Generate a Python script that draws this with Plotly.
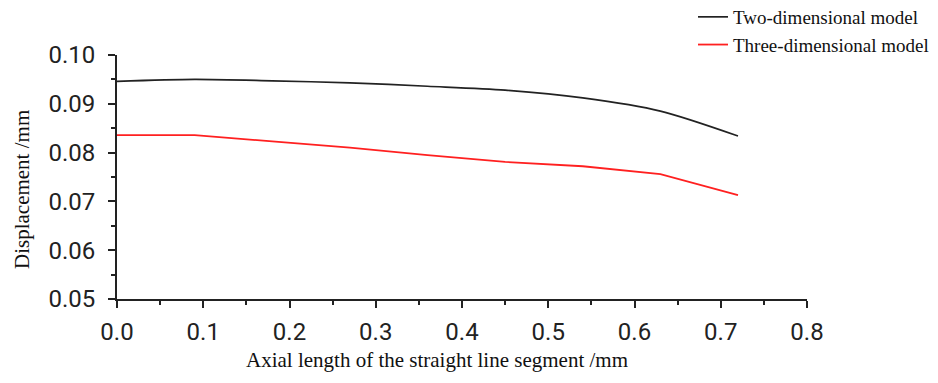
import plotly.graph_objects as go

x_two = [0.0, 0.09, 0.18, 0.27, 0.36, 0.45, 0.54, 0.63, 0.72]
y_two = [0.0946, 0.0950, 0.0947, 0.0943, 0.0936, 0.0928, 0.0912, 0.0885, 0.0834]

x_three = [0.0, 0.09, 0.18, 0.27, 0.36, 0.45, 0.54, 0.63, 0.72]
y_three = [0.0836, 0.0836, 0.0823, 0.0810, 0.0795, 0.0781, 0.0772, 0.0756, 0.0713]

x_ticks = [0.0, 0.1, 0.2, 0.3, 0.4, 0.5, 0.6, 0.7, 0.8]
y_ticks = [0.05, 0.06, 0.07, 0.08, 0.09, 0.10]

# the page body adds an 8px offset; work in reference pixels minus 8
OFF = 8
W, H = 938 - OFF, 383 - OFF
L, T = 117 - OFF, 55 - OFF
pw, ph = 690, 244
R = W - L - pw
B = H - T - ph

def px(xr):
    return (xr - OFF - L) / pw

def py(yr):
    return (T + ph - (yr - OFF)) / ph

fig = go.Figure()
fig.add_trace(go.Scatter(x=x_two, y=y_two, mode="lines", name="Two-dimensional model",
                         legendgroup="a",
                         line=dict(color="#222222", width=1.7, shape="spline", smoothing=0.8)))
fig.add_trace(go.Scatter(x=x_three, y=y_three, mode="lines", name="Three-dimensional model",
                         legendgroup="b",
                         line=dict(color="#ff2020", width=1.8)))

tickfont = dict(family="Roboto, Liberation Sans, Arial, sans-serif", size=24, color="#222222")
serif = "Liberation Serif, Times New Roman, serif"

fig.update_layout(
    width=W, height=H,
    margin=dict(l=L, r=R, t=T, b=B, autoexpand=False),
    paper_bgcolor="white", plot_bgcolor="white",
    showlegend=True,
    legend=dict(x=px(693), y=py(-2), xanchor="left", yanchor="top",
                font=dict(family=serif, size=19, color="#111111"),
                bgcolor="rgba(0,0,0,0)", tracegroupgap=0, itemwidth=30),
    xaxis=dict(range=[0, 0.8], tickvals=x_ticks, ticktext=[f"{v:.1f}" for v in x_ticks],
               showgrid=False, zeroline=False, showline=True, linecolor="#222222", linewidth=2,
               ticks="outside", ticklen=7, tickwidth=2, tickcolor="#222222",
               minor=dict(ticks="outside", ticklen=4, tickwidth=2, tickcolor="#222222", dtick=0.05),
               tickfont=tickfont, ticklabelstandoff=3),
    yaxis=dict(range=[0.05, 0.10], tickvals=y_ticks, ticktext=[f"{v:.2f}" for v in y_ticks],
               showgrid=False, zeroline=False, showline=True, linecolor="#222222", linewidth=2,
               ticks="outside", ticklen=7, tickwidth=2, tickcolor="#222222",
               minor=dict(ticks="outside", ticklen=4, tickwidth=2, tickcolor="#222222", dtick=0.005),
               tickfont=tickfont, ticklabelstandoff=8),
)

fig.add_annotation(text="Axial length of the straight line segment /mm",
                   x=px(437), y=py(360), xanchor="center", yanchor="middle",
                   xref="paper", yref="paper", showarrow=False,
                   font=dict(family=serif, size=21, color="#111111"))
fig.add_annotation(text="Displacement /mm", x=px(22), y=py(190),
                   xanchor="center", yanchor="middle",
                   xref="paper", yref="paper", showarrow=False, textangle=-90,
                   font=dict(family=serif, size=21, color="#111111"))

fig.write_html("out.html")
